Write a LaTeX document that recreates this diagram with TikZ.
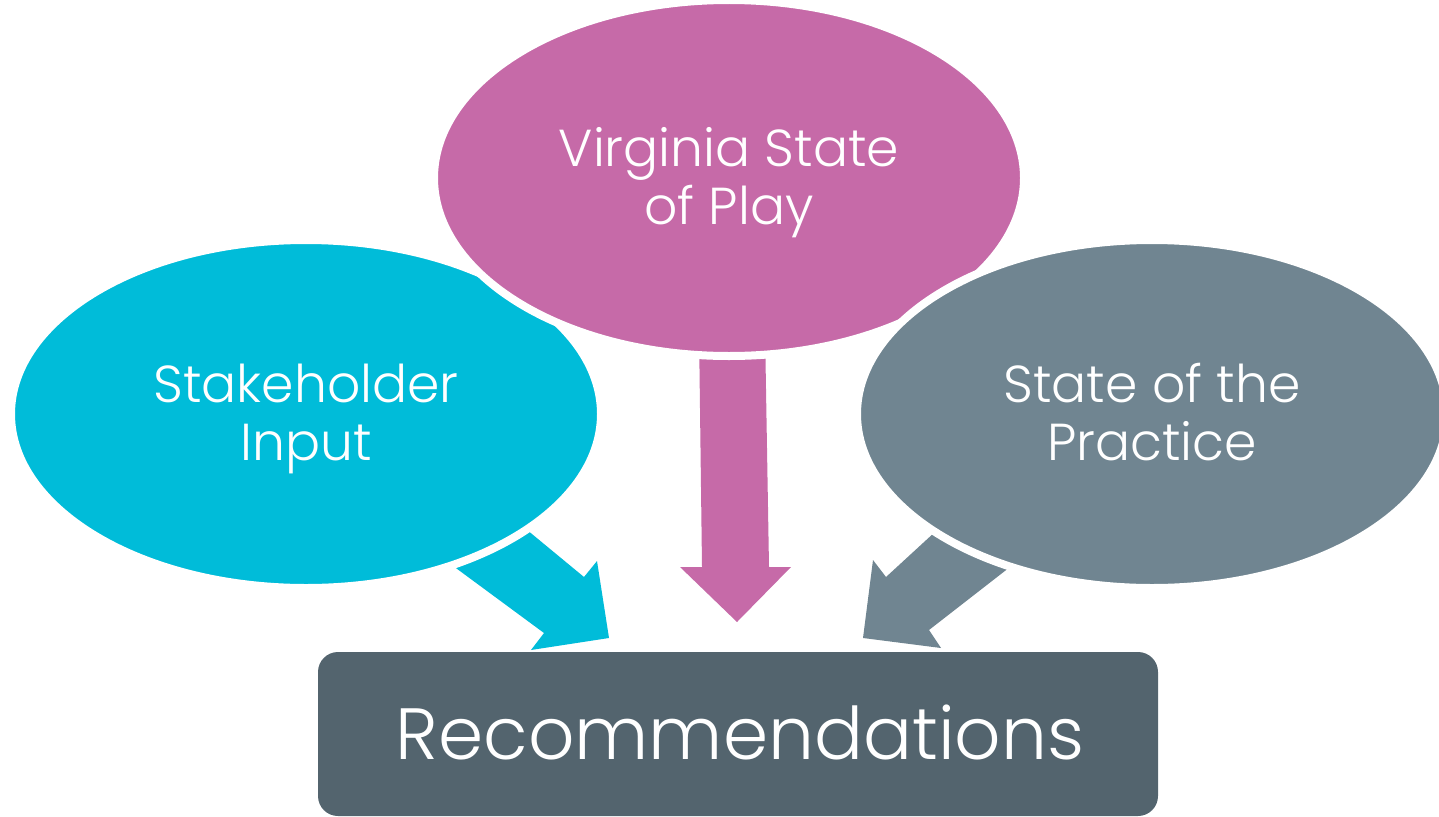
\documentclass[tikz,border=0pt]{standalone}
\usepackage{fontspec}
\setmainfont{Poppins}[UprightFont={* Light}]
\usetikzlibrary{shapes.geometric}
\definecolor{cyanc}{RGB}{0,188,217}
\definecolor{pinkc}{RGB}{198,106,168}
\definecolor{grayc}{RGB}{112,133,145}
\definecolor{boxc}{RGB}{83,100,110}
\tikzset{
  bubble/.style={ellipse, draw=white, line width=8pt, inner sep=0pt,
    minimum width=590pt, minimum height=348pt, align=center},
  bubbletext/.style={text=white, align=center, inner sep=0pt,
    font=\fontsize{52}{58}\selectfont},
}
\begin{document}
\begin{tikzpicture}[x=1pt,y=-1pt]
\useasboundingbox (0,0) rectangle (1439,816);
% arrows (behind the bubbles)
\fill[cyanc] (515,520) -- (584,577) -- (597,561) -- (609,638) -- (531,650) -- (544,633) -- (445,560) -- cycle;
\fill[pinkc] (699,330) -- (765,330) -- (769,567) -- (791,567) -- (737,622) -- (680,567) -- (702,567) -- cycle;
\fill[grayc] (948,520) -- (1019,560) -- (929,630) -- (941,648) -- (863,638) -- (873,560) -- (886,577) -- cycle;
% bubbles
\node[bubble, fill=cyanc] (si) at (306,414) {};
\node[bubbletext] (sit) at (306,420) {\strut Stakeholder\\\strut Input};
\node[bubble, fill=pinkc, minimum height=356pt] (vs) at (729,178) {};
\node[bubbletext] (vst) at (729,184) {\strut Virginia State\\\strut of Play};
\node[bubble, fill=grayc] (sp) at (1152,414) {};
\node[bubbletext] (spt) at (1152,420) {\strut State of the\\\strut Practice};
% box
\node[fill=boxc, rounded corners=20pt, minimum width=840pt, minimum height=164pt, inner sep=0pt] (rec) at (738,734) {};
\node[text=white, font=\fontsize{72.6}{80}\selectfont, inner sep=0pt] (rect) at (740,732) {Recommendations};
\end{tikzpicture}
\end{document}
